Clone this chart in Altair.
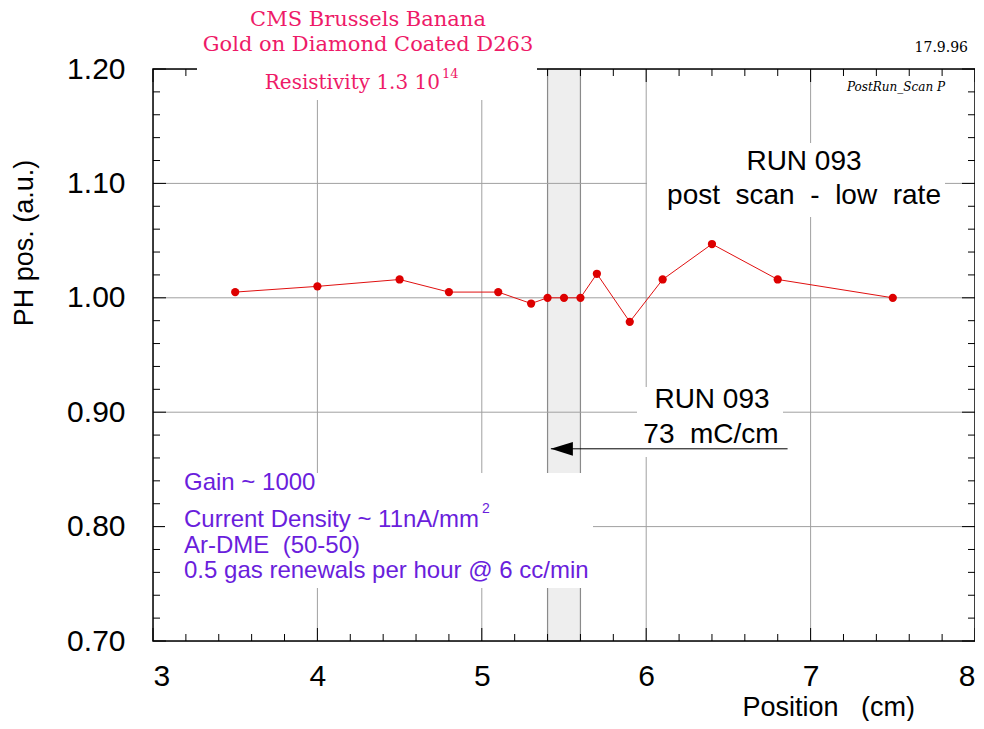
import altair as alt
import pandas as pd

# ---- data ----
positions = [3.5, 4.0, 4.5, 4.8, 5.1, 5.3, 5.4, 5.5, 5.6, 5.7, 5.9, 6.1, 6.4, 6.8, 7.5]
ph_pos = [1.005, 1.010, 1.016, 1.005, 1.005, 0.995, 1.000, 1.000, 1.000, 1.021, 0.979, 1.016, 1.047, 1.016, 1.000]

x_major = [3, 4, 5, 6, 7, 8]
y_major = [0.70, 0.80, 0.90, 1.00, 1.10, 1.20]
x_grid = [4, 5, 6, 7]
y_grid = [0.80, 0.90, 1.00, 1.10]
x_minor = [round(3 + 0.2 * i, 2) for i in range(26) if i % 5 != 0]
y_minor = [round(0.70 + 0.02 * i, 2) for i in range(26) if i % 5 != 0]

band_start = [5.4]
band_end = [5.6]
arrow_from = [6.86]
arrow_to = [5.42]
arrow_head = [5.487]
arrow_y = [0.868]

W, H = 822, 572
NB = "\u00a0"

pts = pd.DataFrame({"x": positions, "y": ph_pos})
one = pd.DataFrame({"d": [0]})

xs = alt.Scale(domain=[3, 8], nice=False)
ys = alt.Scale(domain=[0.7, 1.2], nice=False)

PINK = "#ee1a68"
PURPLE = "#6a1edc"
SANS = "Liberation Sans, Arial, Helvetica, sans-serif"
SERIF = "DejaVu Serif, serif"

# axes (labels only)
base_axes = alt.Chart(pts).mark_point(opacity=0).encode(
    x=alt.X("x:Q", scale=xs, axis=alt.Axis(values=x_major, format="d", title=None, grid=False,
                                           domain=False, ticks=False, tickSize=0, labelPadding=20,
                                           labelFont=SANS, labelFontSize=30, labelColor="black")),
    y=alt.Y("y:Q", scale=ys, axis=alt.Axis(values=y_major, format=".2f", title=None, grid=False,
                                           domain=False, ticks=False, tickSize=0, labelPadding=28,
                                           labelFont=SANS, labelFontSize=30, labelColor="black")),
)

band = alt.Chart(pd.DataFrame({"a": band_start, "b": band_end})).mark_rect(
    fill="#eeeeee", stroke="#8a8a8a", strokeWidth=1.2
).encode(x=alt.X("a:Q", scale=xs), x2="b:Q", y=alt.value(0), y2=alt.value(H))

vgrid = alt.Chart(pd.DataFrame({"g": x_grid})).mark_rule(color="#a0a0a0", strokeWidth=1).encode(
    x=alt.X("g:Q", scale=xs), y=alt.value(0), y2=alt.value(H))
hgrid = alt.Chart(pd.DataFrame({"g": y_grid})).mark_rule(color="#a0a0a0", strokeWidth=1).encode(
    y=alt.Y("g:Q", scale=ys), x=alt.value(0), x2=alt.value(W))

def xticks(vals, length):
    df = pd.DataFrame({"t": vals})
    bot = alt.Chart(df).mark_rule(color="black", strokeWidth=1).encode(
        x=alt.X("t:Q", scale=xs), y=alt.value(H), y2=alt.value(H - length))
    top = alt.Chart(df).mark_rule(color="black", strokeWidth=1).encode(
        x=alt.X("t:Q", scale=xs), y=alt.value(0), y2=alt.value(length))
    return [bot, top]

def yticks(vals, length):
    df = pd.DataFrame({"t": vals})
    left = alt.Chart(df).mark_rule(color="black", strokeWidth=1).encode(
        y=alt.Y("t:Q", scale=ys), x=alt.value(0), x2=alt.value(length))
    right = alt.Chart(df).mark_rule(color="black", strokeWidth=1).encode(
        y=alt.Y("t:Q", scale=ys), x=alt.value(W), x2=alt.value(W - length))
    return [left, right]

frame = alt.Chart(one).mark_rect(filled=False, stroke="black", strokeWidth=1.5).encode(
    x=alt.value(0), x2=alt.value(W), y=alt.value(0), y2=alt.value(H))

def box(x1, x2, y1, y2):
    return alt.Chart(one).mark_rect(fill="white", stroke=None).encode(
        x=alt.value(x1), x2=alt.value(x2), y=alt.value(y1), y2=alt.value(y2))

boxes = [box(44, 384, -61, 31), box(494, 792, 74, 148), box(484, 630, 318, 388), box(12, 440, 404, 519)]

line = alt.Chart(pts).mark_line(color="#e01010", strokeWidth=1).encode(
    x=alt.X("x:Q", scale=xs), y=alt.Y("y:Q", scale=ys))
dots = alt.Chart(pts).mark_circle(color="#dd0000", size=68, opacity=1).encode(
    x=alt.X("x:Q", scale=xs), y=alt.Y("y:Q", scale=ys))

arrow_df = pd.DataFrame({"a": arrow_from, "b": arrow_to, "h": arrow_head, "y": arrow_y})
arrow = alt.Chart(arrow_df).mark_rule(color="black", strokeWidth=1).encode(
    x=alt.X("a:Q", scale=xs), x2="b:Q", y=alt.Y("y:Q", scale=ys))
head = alt.Chart(arrow_df).mark_point(shape="M-1,0L1,-0.62L1,0.62Z", filled=True, fill="black",
                                      color="black", size=484, opacity=1).encode(
    x=alt.X("h:Q", scale=xs), y=alt.Y("y:Q", scale=ys))

def txt(s, x, y, size, color="black", font=SANS, align="center", angle=0, style="normal"):
    kw = dict(text=s, fontSize=size, color=color, font=font, align=align, baseline="middle",
              fontStyle=style)
    if angle:
        kw["angle"] = angle
    return alt.Chart(one).mark_text(**kw).encode(x=alt.value(x), y=alt.value(y))

texts = [
    txt("CMS Brussels Banana", 215, -49, 21, PINK, SERIF),
    txt("Gold on Diamond Coated D263", 215, -24, 21, PINK, SERIF),
    txt("Resistivity 1.3 10", 287, 14, 20, PINK, SERIF, align="right"),
    txt("14", 289, 5, 13, PINK, SERIF, align="left"),
    txt("17.9.96", 815, -21, 14, "black", SERIF, align="right"),
    txt("PostRun_Scan P", 743, 18, 12, "black", SERIF, style="italic"),
    txt("RUN 093", 651, 93, 28),
    txt(f"post{NB} scan{NB} -{NB} low{NB} rate", 651, 127, 28),
    txt("RUN 093", 559, 331, 28),
    txt(f"73{NB} mC/cm", 558, 366, 28),
    txt("Gain ~ 1000", 31, 414, 24, PURPLE, align="left"),
    txt("Current Density ~ 11nA/mm", 31, 451, 24, PURPLE, align="left"),
    txt("2", 329, 440, 14, PURPLE, align="left"),
    txt(f"Ar-DME{NB} (50-50)", 31, 477, 24, PURPLE, align="left"),
    txt("0.5 gas renewals per hour @ 6 cc/min", 31, 502, 24, PURPLE, align="left"),
    txt(f"Position{NB}{NB} (cm)", 762, 639, 27, align="right"),
    txt("PH pos. (a.u.)", -128, 174, 27, angle=270),
]

layers = ([base_axes, band, vgrid, hgrid, frame]
          + xticks(x_minor, 7) + xticks(x_major, 13)
          + yticks(y_minor, 7) + yticks(y_major, 13)
          + boxes + [line, dots, arrow, head] + texts)

chart = alt.layer(*layers).properties(
    width=W, height=H,
    autosize=alt.AutoSizeParams(type="none"),
    padding={"left": 145, "top": 61, "right": 0, "bottom": 80},
).configure_view(stroke=None).configure(background="white")

chart.save("out.html", embed_options={"renderer": "svg", "actions": False})
